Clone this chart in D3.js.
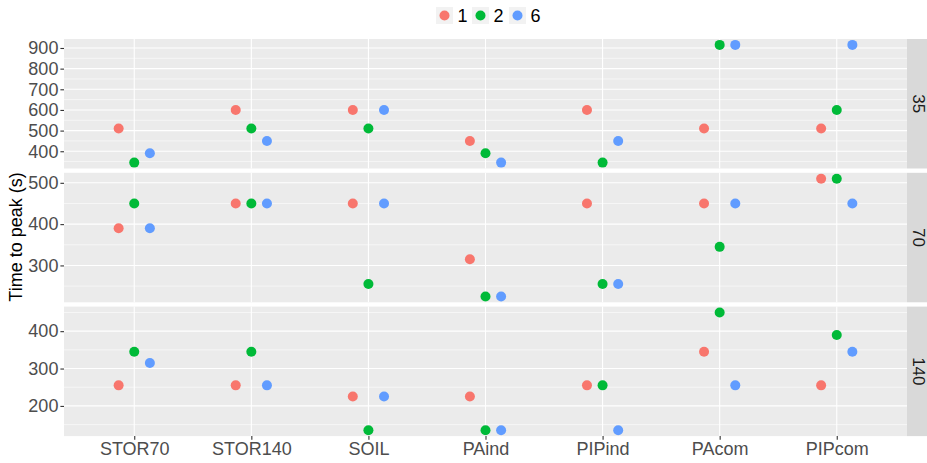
<!DOCTYPE html>
<html>
<head>
<meta charset="utf-8">
<script src="https://cdn.jsdelivr.net/npm/d3@7"></script>
<style>
  html, body { margin: 0; padding: 0; background: #ffffff; }
  svg { display: block; font-family: "Liberation Sans", Arial, sans-serif; }
</style>
</head>
<body>
<svg id="chart" width="927" height="463"></svg>
<script>
// Time to peak per site, split by rainfall duration (rows) and group (colour)
const categories = ["STOR70", "STOR140", "SOIL", "PAind", "PIPind", "PAcom", "PIPcom"];
const facets = ["35", "70", "140"];
const groups = ["1", "2", "6"];
const groupColors = ["#F8766D", "#00BA38", "#619CFF"];

// values per facet and group, aligned with categories
const values35_g1 = [510, 600, 600, 450, 600, 510, 510];
const values35_g2 = [345, 510, 510, 390, 345, 915, 600];
const values35_g6 = [390, 450, 600, 345, 450, 915, 915];
const values70_g1 = [390, 450, 450, 315, 450, 450, 510];
const values70_g2 = [450, 450, 255, 225, 255, 345, 510];
const values70_g6 = [390, 450, 450, 225, 255, 450, 450];
const values140_g1 = [255, 255, 225, 225, 255, 345, 255];
const values140_g2 = [345, 345, 135, 135, 255, 450, 390];
const values140_g6 = [315, 255, 225, 135, 135, 255, 345];

const ticks35 = [400, 500, 600, 700, 800, 900];
const ticks70 = [300, 400, 500];
const ticks140 = [200, 300, 400];

const facetData = [
  { label: facets[0], series: [values35_g1, values35_g2, values35_g6], ticks: ticks35 },
  { label: facets[1], series: [values70_g1, values70_g2, values70_g6], ticks: ticks70 },
  { label: facets[2], series: [values140_g1, values140_g2, values140_g6], ticks: ticks140 }
];

const svg = d3.select("#chart");
const panelLeft = 64, panelRight = 907, stripW = 20;
const panelTop = 39, panelH = 129.5, panelGap = 4.3;

const x = d3.scalePoint().domain(categories).range([panelLeft, panelRight]).padding(0.6);
const step = x.step();
const dodge = 0.4 * step / groups.length;

facetData.forEach((f, fi) => {
  const top = panelTop + fi * (panelH + panelGap);
  const bottom = top + panelH;
  const all = f.series.flat();
  const lo = d3.min(all), hi = d3.max(all);
  const pad = (hi - lo) * 0.05;
  const y = d3.scaleLinear().domain([lo - pad, hi + pad]).range([bottom, top]);

  const g = svg.append("g");
  g.append("rect").attr("x", panelLeft).attr("y", top)
    .attr("width", panelRight - panelLeft).attr("height", panelH).attr("fill", "#EBEBEB");

  // minor gridlines halfway between major ticks
  const stepT = f.ticks[1] - f.ticks[0];
  const minors = [];
  for (let v = f.ticks[0] - stepT / 2; v <= f.ticks[f.ticks.length - 1] + stepT / 2; v += stepT) {
    if (v >= y.domain()[0] && v <= y.domain()[1]) minors.push(v);
  }
  g.selectAll(".minor").data(minors).join("line")
    .attr("x1", panelLeft).attr("x2", panelRight)
    .attr("y1", d => y(d)).attr("y2", d => y(d))
    .attr("stroke", "#ffffff").attr("stroke-width", 0.55);
  g.selectAll(".major").data(f.ticks).join("line")
    .attr("x1", panelLeft).attr("x2", panelRight)
    .attr("y1", d => y(d)).attr("y2", d => y(d))
    .attr("stroke", "#ffffff").attr("stroke-width", 1.1);
  g.selectAll(".vmajor").data(categories).join("line")
    .attr("x1", d => x(d)).attr("x2", d => x(d))
    .attr("y1", top).attr("y2", bottom)
    .attr("stroke", "#ffffff").attr("stroke-width", 1.1);

  // y axis
  const yAxis = g.append("g").attr("transform", `translate(${panelLeft},0)`)
    .call(d3.axisLeft(y).tickValues(f.ticks).tickSize(3.6).tickPadding(2));
  yAxis.select(".domain").remove();
  yAxis.selectAll(".tick line").attr("stroke", "#333333").attr("stroke-width", 1.1);
  yAxis.selectAll(".tick text").attr("fill", "#4D4D4D")
    .style("font-size", "18px").style("font-family", "Liberation Sans, Arial, sans-serif");

  // points, dodged within each category
  f.series.forEach((vals, gi) => {
    g.selectAll(".pt" + gi).data(vals).join("circle")
      .attr("cx", (d, i) => x(categories[i]) + (gi - 1) * dodge)
      .attr("cy", d => y(d))
      .attr("r", 5)
      .attr("fill", groupColors[gi]);
  });

  // facet strip on the right
  g.append("rect").attr("x", panelRight).attr("y", top)
    .attr("width", stripW + 5).attr("height", panelH).attr("fill", "#D9D9D9");
  g.append("text")
    .attr("transform", `translate(${panelRight + 11.5},${(top + bottom) / 2}) rotate(90)`)
    .attr("text-anchor", "middle")
    .attr("dominant-baseline", "central")
    .attr("fill", "#1A1A1A")
    .style("font-size", "17px")
    .text(f.label);

  if (fi === facetData.length - 1) {
    const xAxis = svg.append("g").attr("transform", `translate(0,${bottom})`)
      .call(d3.axisBottom(x).tickSize(3.6).tickPadding(3));
    xAxis.select(".domain").remove();
    xAxis.selectAll(".tick line").attr("stroke", "#333333").attr("stroke-width", 1.1);
    xAxis.selectAll(".tick text").attr("fill", "#4D4D4D")
      .style("font-size", "18px").style("font-family", "Liberation Sans, Arial, sans-serif");
  }
});

// y axis title
svg.append("text")
  .attr("transform", `translate(22,237) rotate(-90)`)
  .attr("text-anchor", "middle")
  .attr("fill", "#000000")
  .style("font-size", "18px")
  .text("Time to peak (s)");

// legend
const legendX = [436, 472, 509];
const legend = svg.append("g");
groups.forEach((gName, gi) => {
  const lx = legendX[gi];
  legend.append("rect").attr("x", lx).attr("y", 7).attr("width", 17).attr("height", 17).attr("fill", "#F2F2F2");
  legend.append("circle").attr("cx", lx + 8.5).attr("cy", 15.5).attr("r", 5).attr("fill", groupColors[gi]);
  legend.append("text").attr("x", lx + 21.5).attr("y", 22)
    .attr("fill", "#000000").style("font-size", "18px").text(gName);
});
</script>
</body>
</html>
